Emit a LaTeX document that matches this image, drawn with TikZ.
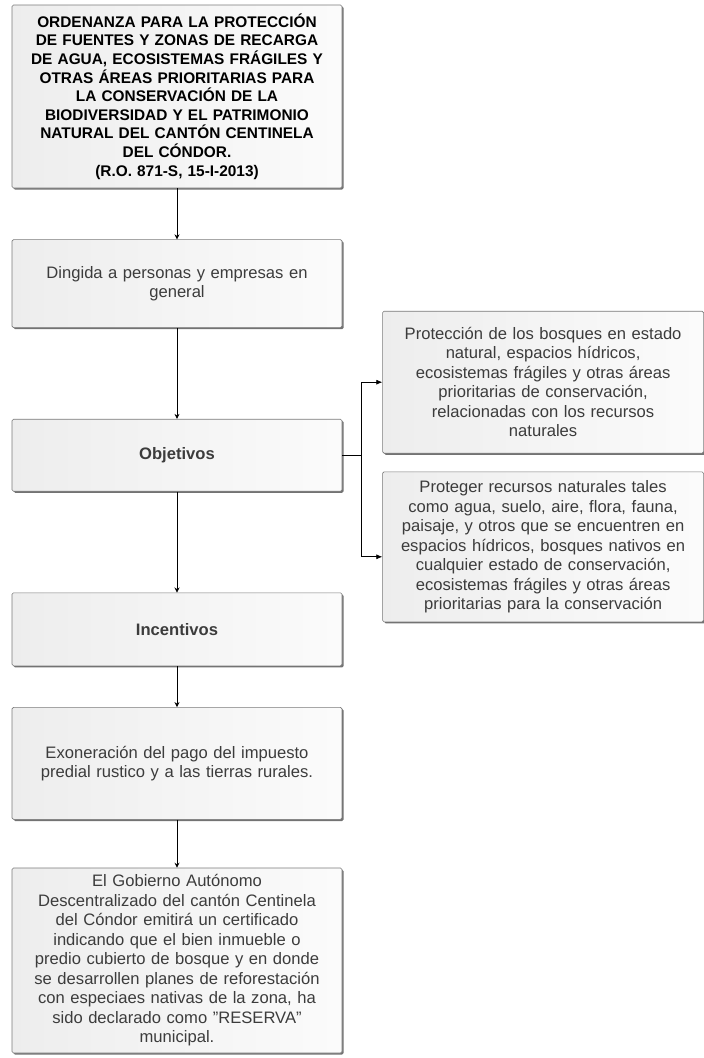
\documentclass[tikz,border=0pt]{standalone}
\usepackage{fontspec}
\setmainfont{Liberation Sans}
\usetikzlibrary{arrows.meta,positioning,calc,shadows}
\definecolor{bordeG}{HTML}{7A7A7A}
\definecolor{sombraG}{HTML}{5A5A5A}
\definecolor{textoG}{HTML}{3C3C3C}
\tikzset{
  caja/.style={rectangle, rounded corners=1.5pt, draw=bordeG, line width=0.6pt,
               left color=gray!14, right color=gray!3, align=center,
               font=\fontsize{16.6}{19.5}\selectfont, text=textoG, inner xsep=7pt,
               drop shadow={shadow xshift=1.6pt, shadow yshift=-1.6pt, fill=sombraG, opacity=0.85}},
  colc/.style={caja, minimum width=330pt, text width=316pt},
  lado/.style={caja, minimum width=321pt, text width=307pt},
  titulo/.style={font=\fontsize{15.4}{18.6}\selectfont\bfseries, text=black},
  flecha/.style={-{Stealth[length=5pt,width=5pt]}, line width=0.7pt, draw=black},
  flechal/.style={-{Latex[length=6pt,width=5pt]}, line width=0.7pt, draw=black},
}
\begin{document}
\begin{tikzpicture}
  \useasboundingbox (0,0) rectangle (704pt,-1058pt);
  \node[colc, titulo, minimum height=183pt] (ord) at (177pt,-96.5pt)
    {ORDENANZA PARA LA PROTECCIÓN\\DE FUENTES Y ZONAS DE RECARGA\\
     DE AGUA, ECOSISTEMAS FRÁGILES Y\\OTRAS ÁREAS PRIORITARIAS PARA\\
     LA CONSERVACIÓN DE LA\\BIODIVERSIDAD Y EL PATRIMONIO\\
     NATURAL DEL CANTÓN CENTINELA\\DEL CÓNDOR.\\(R.O. 871-S, 15-I-2013)};
  \node[colc, minimum height=88pt, below=51pt of ord] (dir)
    {Dingida a personas y empresas en\\general};
  \node[colc, minimum height=72pt, below=91pt of dir] (obj) {\bfseries Objetivos};
  \node[colc, minimum height=73pt, below=101pt of obj] (inc) {\bfseries Incentivos};
  \node[colc, minimum height=112pt, below=41pt of inc] (exo)
    {Exoneración del pago del impuesto\\predial rustico y a las tierras rurales.};
  \node[colc, minimum height=185pt, below=48pt of exo] (gad)
    {El Gobierno Autónomo\\Descentralizado del cantón Centinela\\
     del Cóndor emitirá un certificado\\indicando que el bien inmueble o\\
     predio cubierto de bosque y en donde\\se desarrollen planes de reforestación\\
     con especiaes nativas de la zona, ha\\sido declarado como \symbol{34}RESERVA\symbol{34}\\municipal.};
  \node[lado, minimum height=142pt, right=40pt of obj, yshift=73pt] (proA)
    {Protección de los bosques en estado\\natural, espacios hídricos,\\
     ecosistemas frágiles y otras áreas\\prioritarias de conservación,\\
     relacionadas con los recursos\\naturales};
  \node[lado, minimum height=150pt, below=18pt of proA] (proB)
    {Proteger recursos naturales tales\\como agua, suelo, aire, flora, fauna,\\
     paisaje, y otros que se encuentren en\\espacios hídricos, bosques nativos en\\
     cualquier estado de conservación,\\ecosistemas frágiles y otras áreas\\
     prioritarias para la conservación};
  \draw[flecha] (ord) -- (dir); \draw[flecha] (dir) -- (obj);
  \draw[flecha] (obj) -- (inc); \draw[flecha] (inc) -- (exo);
  \draw[flecha] (exo) -- (gad);
  % objetivos
  \coordinate[right=19pt of obj] (brk);
  \draw[flechal] (obj.east) -- (brk) |- (proA.west);
  \draw[flechal] (brk) |- ($(proB.west)+(0,-10pt)$);
\end{tikzpicture}
\end{document}
